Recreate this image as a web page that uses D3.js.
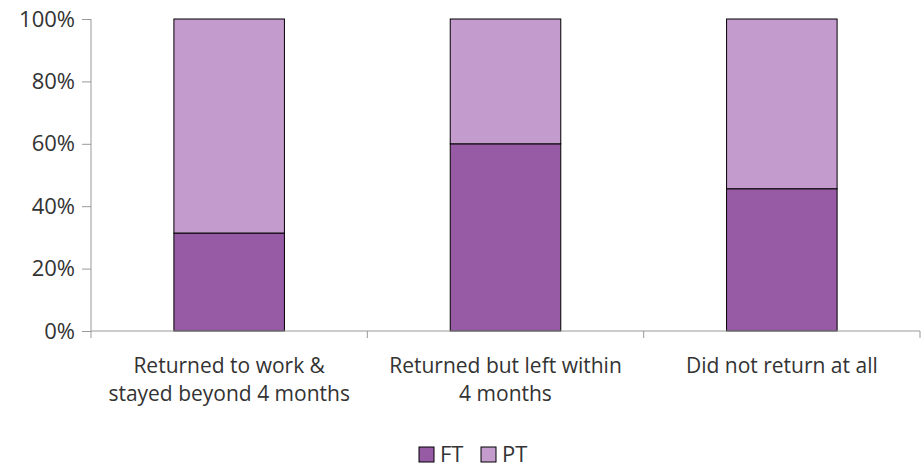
<!doctype html>
<html>
<head>
<meta charset="utf-8">
<script src="https://cdn.jsdelivr.net/npm/d3@7"></script>
<style>
  body { margin: 0; background: #fff; }
  svg text { font-family: "Open Sans", "Liberation Sans", sans-serif; fill: #333; }
</style>
</head>
<body>
<div id="main"></div>
<script>
var categories = [
  ["Returned to work &", "stayed beyond 4 months"],
  ["Returned but left within", "4 months"],
  ["Did not return at all"]
];
var seriesNames = ["FT", "PT"];
var ftValues = [31.4, 60, 45.6];
var ptValues = [68.6, 40, 54.4];
var yTicks = [0, 20, 40, 60, 80, 100];
var colors = { FT: "#975AA5", PT: "#C49BCD" };

var width = 923, height = 469;
var margin = { top: 19, right: 3, bottom: 138, left: 91 };
var innerW = width - margin.left - margin.right;
var innerH = height - margin.top - margin.bottom;

var svg = d3.select('#main').append('svg')
  .attr('width', width)
  .attr('height', height);

var g = svg.append('g')
  .attr('transform', 'translate(' + margin.left + ',' + margin.top + ')');

var x = d3.scaleBand()
  .domain(d3.range(categories.length))
  .range([0, innerW])
  .paddingInner(0.6)
  .paddingOuter(0.3);

var xOuter = d3.scaleBand()
  .domain(d3.range(categories.length))
  .range([0, innerW]);

var y = d3.scaleLinear().domain([0, 100]).range([innerH, 0]);

// stacked data
var rows = categories.map(function(c, i) {
  return { i: i, FT: ftValues[i], PT: ptValues[i] };
});
var stack = d3.stack().keys(seriesNames)(rows);

g.selectAll('g.series')
  .data(stack)
  .enter().append('g')
  .attr('class', 'series')
  .attr('fill', function(d) { return colors[d.key]; })
  .selectAll('rect')
  .data(function(d) { return d; })
  .enter().append('rect')
  .attr('x', function(d) { return x(d.data.i); })
  .attr('y', function(d) { return y(d[1]); })
  .attr('width', x.bandwidth())
  .attr('height', function(d) { return y(d[0]) - y(d[1]); })
  .attr('stroke', '#000')
  .attr('stroke-width', 1);

// y axis
var yAxis = g.append('g')
  .call(d3.axisLeft(y).tickValues(yTicks).tickSize(9).tickPadding(7)
    .tickFormat(function(d) { return d + '%'; }));
yAxis.selectAll('line, path').attr('stroke', '#999');
yAxis.select('.domain').attr('d', 'M0,' + innerH + 'V0');
yAxis.selectAll('text').style('font-size', '22px').attr('fill', '#333');

// x axis with ticks at category boundaries
var xAxis = g.append('g').attr('transform', 'translate(0,' + innerH + ')');
xAxis.append('line')
  .attr('x1', 0).attr('x2', innerW)
  .attr('stroke', '#999');
var bounds = d3.range(categories.length + 1).map(function(i) {
  return i < categories.length ? xOuter(i) : innerW;
});
xAxis.selectAll('line.tick')
  .data(bounds)
  .enter().append('line')
  .attr('class', 'tick')
  .attr('x1', function(d) { return d; })
  .attr('x2', function(d) { return d; })
  .attr('y1', 0).attr('y2', 7)
  .attr('stroke', '#999');

// each label line as its own text element
categories.forEach(function(lines, i) {
  xAxis.selectAll('text.cat' + i)
    .data(lines)
    .enter().append('text')
    .attr('class', 'cat' + i)
    .attr('text-anchor', 'middle')
    .attr('x', xOuter(i) + xOuter.bandwidth() / 2)
    .attr('y', function(d, k) { return 42 + k * 28; })
    .style('font-size', '21px')
    .text(function(d) { return d; });
});

// legend
var legend = svg.append('g').attr('transform', 'translate(419,447)');
var items = legend.selectAll('g')
  .data(seriesNames)
  .enter().append('g')
  .attr('transform', function(d, i) { return 'translate(' + (i * 62) + ',0)'; });
items.append('rect')
  .attr('width', 15).attr('height', 15)
  .attr('fill', function(d) { return colors[d]; })
  .attr('stroke', '#000');
items.append('text')
  .attr('x', 21).attr('y', 15)
  .style('font-size', '22px')
  .text(function(d) { return d; });
</script>
</body>
</html>
